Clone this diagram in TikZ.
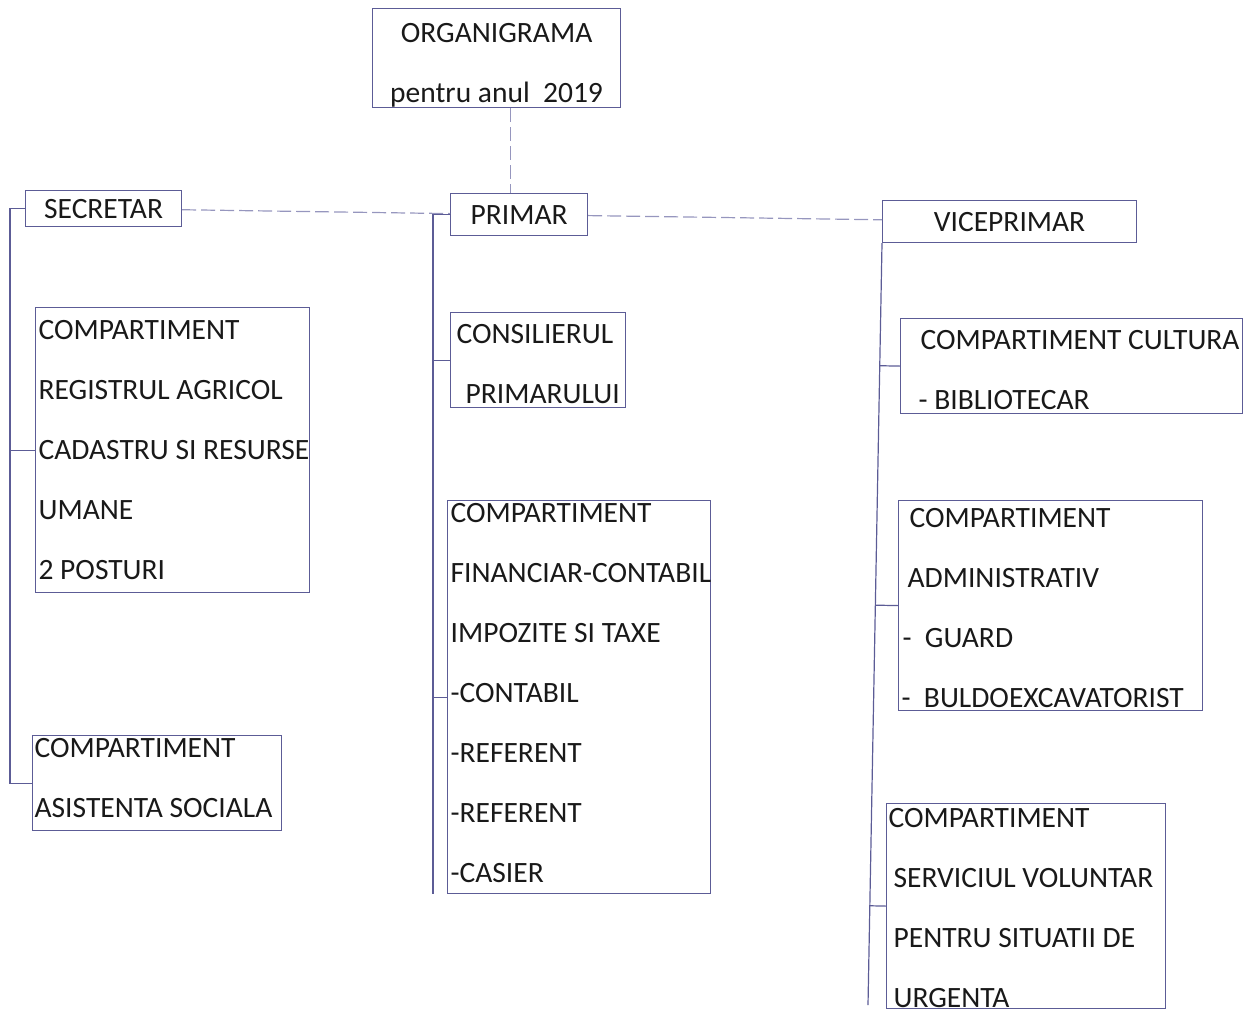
\documentclass[tikz,border=0pt]{standalone}
\usepackage{fontspec}
\setmainfont{Carlito}
\usepackage{xcolor}
\usetikzlibrary{calc}
\definecolor{pen}{RGB}{92,92,150}
\definecolor{penlight}{RGB}{150,150,190}
\definecolor{ink}{RGB}{25,25,25}

\begin{document}
	\begin{tikzpicture}[x=1pt,y=-1pt,
		box/.style={draw=pen, line width=1.2pt, text=ink, font=\fontsize{29.5}{60}\selectfont, inner xsep=3pt, inner ysep=0pt, anchor=north west},
		unit/.style={box, align=flush left},
		link/.style={draw=pen, line width=1.2pt},
		faint/.style={draw=penlight, line width=1.2pt, dash pattern=on 14pt off 5pt}]
		\useasboundingbox (0,0) rectangle (1252,1012);
		% head
		\node[box, minimum width=248pt, minimum height=99pt, align=center, text height=89pt, text depth=0pt] (t0) at (372,8) {ORGANIGRAMA\\pentru anul\ \ 2019};
		\node[box, minimum width=156pt, minimum height=36pt] (s1) at (25,190) {SECRETAR};
		\node[box, minimum width=137pt, minimum height=42pt] (p1) at (450,193) {PRIMAR};
		\node[box, minimum width=254pt, minimum height=42pt] (v1) at (882,200) {VICEPRIMAR};
		% secretar
		\node[unit, text width=268pt, minimum height=285pt] (r1) at (35,307) {COMPARTIMENT\\REGISTRUL AGRICOL\\\mbox{CADASTRU SI RESURSE}\\UMANE\\2 POSTURI};
		\node[unit, text width=245pt, minimum height=95pt, inner xsep=2pt, text depth=70pt] (r2) at (32,735) {COMPARTIMENT\\\mbox{ASISTENTA SOCIALA}};
		% primar
		\node[unit, text width=169pt, minimum height=95pt, text height=27.5pt] (c1) at (450,312) {\hspace*{3pt}CONSILIERUL\\\hspace*{12pt}PRIMARULUI};
		\node[unit, text width=257pt, minimum height=393pt, text depth=368pt] (f1) at (447,500) {COMPARTIMENT\\\mbox{FINANCIAR-CONTABIL}\\IMPOZITE SI TAXE\\-CONTABIL\\-REFERENT\\-REFERENT\\-CASIER};
		% viceprimar
		\node[unit, text width=336pt, minimum height=95pt, text height=27.5pt] (k1) at (900,318) {\hspace*{17pt}\mbox{COMPARTIMENT CULTURA}\\\hspace*{15pt}- BIBLIOTECAR};
		\node[unit, text width=298pt, minimum height=210pt, text height=23.5pt] (a1) at (898,500) {\hspace*{8pt}COMPARTIMENT\\\hspace*{6pt}ADMINISTRATIV\\\hspace*{1pt}-\ \ GUARD\\\mbox{-\ \ BULDOEXCAVATORIST}};
		\node[unit, text width=275pt, minimum height=205pt, inner xsep=2pt, text height=23.5pt] (u1) at (886,803) {COMPARTIMENT\\\hspace*{5pt}\mbox{SERVICIUL VOLUNTAR}\\\hspace*{5pt}\mbox{PENTRU SITUATII DE}\\\hspace*{5pt}URGENTA};

		\coordinate (tp) at ([xshift=-9pt]p1.north);
		\draw[faint] (tp |- t0.south) -- (tp);
		\draw[faint] (s1) -- (p1);
		\draw[faint] (p1) -- (v1);

		\coordinate (sx) at ([xshift=-15pt]s1.west);
		\draw[link] (s1.west) -- (sx) |- (r2.west);
		\draw[link] (sx |- r1.west) -- (r1.west);

		\coordinate (px) at ([xshift=-17pt]p1.west);
		\draw[link] (p1.west) -- (px) -- (px |- f1.south);
		\draw[link] (px |- c1.west) -- (c1.west);
		\draw[link] (px |- f1.west) -- (f1.west);

		\coordinate (ve) at (868,1005);
		\draw[link] (v1.south west) -- (ve);
		\foreach \n in {k1,a1,u1}
			\draw[link] ($(v1.south west)!(\n.west)!(ve)$) -- (\n.west);
	\end{tikzpicture}
\end{document}
